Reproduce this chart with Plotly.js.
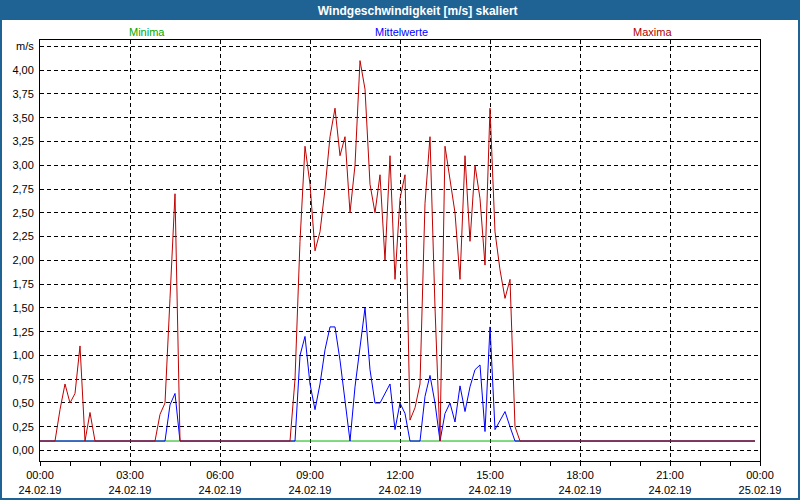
<!DOCTYPE html>
<html>
<head>
<meta charset="utf-8">
<script src="https://cdn.plot.ly/plotly-3.0.1.min.js"></script>
<style>
html,body{margin:0;padding:0;background:#fff;}
#wrap{position:relative;width:800px;height:500px;overflow:hidden;}
#chart{width:800px;height:500px;}
#frame{position:absolute;left:0;top:0;width:800px;height:500px;box-sizing:border-box;border:2px solid #1f6394;pointer-events:none;}
</style>
</head>
<body>
<div id="wrap"><div id="chart"></div><div id="frame"></div></div>
<script>
// ---- data (10-minute values, 24.02.2019 00:00 .. 23:50) ----
const startTime = '2019-02-24T00:00:00';
const stepMinutes = 10;

const minima = [
 0.1,0.1,0.1,0.1,0.1,0.1, 0.1,0.1,0.1,0.1,0.1,0.1, 0.1,0.1,0.1,0.1,0.1,0.1, 0.1,0.1,0.1,0.1,0.1,0.1,
 0.1,0.1,0.1,0.1,0.1,0.1, 0.1,0.1,0.1,0.1,0.1,0.1, 0.1,0.1,0.1,0.1,0.1,0.1, 0.1,0.1,0.1,0.1,0.1,0.1,
 0.1,0.1,0.1,0.1,0.1,0.1, 0.1,0.1,0.1,0.1,0.1,0.1, 0.1,0.1,0.1,0.1,0.1,0.1, 0.1,0.1,0.1,0.1,0.1,0.1,
 0.1,0.1,0.1,0.1,0.1,0.1, 0.1,0.1,0.1,0.1,0.1,0.1, 0.1,0.1,0.1,0.1,0.1,0.1, 0.1,0.1,0.1,0.1,0.1,0.1,
 0.1,0.1,0.1,0.1,0.1,0.1, 0.1,0.1,0.1,0.1,0.1,0.1, 0.1,0.1,0.1,0.1,0.1,0.1, 0.1,0.1,0.1,0.1,0.1,0.1,
 0.1,0.1,0.1,0.1,0.1,0.1, 0.1,0.1,0.1,0.1,0.1,0.1, 0.1,0.1,0.1,0.1,0.1,0.1, 0.1,0.1,0.1,0.1,0.1,0.1
];

const mittelwerte = [
 0.1,0.1,0.1,0.1,0.1,0.1,      // 00
 0.1,0.1,0.1,0.1,0.1,0.1,      // 01
 0.1,0.1,0.1,0.1,0.1,0.1,      // 02
 0.1,0.1,0.1,0.1,0.1,0.1,      // 03
 0.1,0.1,0.48,0.6,0.1,0.1,     // 04
 0.1,0.1,0.1,0.1,0.1,0.1,      // 05
 0.1,0.1,0.1,0.1,0.1,0.1,      // 06
 0.1,0.1,0.1,0.1,0.1,0.1,      // 07
 0.1,0.1,0.1,0.1,1.0,1.2,      // 08
 0.7,0.43,0.7,1.06,1.3,1.3,    // 09
 0.95,0.5,0.1,0.67,1.06,1.5,   // 10
 0.85,0.5,0.5,0.6,0.7,0.22,    // 11
 0.5,0.39,0.1,0.1,0.1,0.57,    // 12
 0.79,0.5,0.1,0.39,0.5,0.3,    // 13
 0.68,0.41,0.67,0.85,0.9,0.2,  // 14
 1.3,0.22,0.32,0.41,0.25,0.1,  // 15
 0.1,0.1,0.1,0.1,0.1,0.1,      // 16
 0.1,0.1,0.1,0.1,0.1,0.1,      // 17
 0.1,0.1,0.1,0.1,0.1,0.1,      // 18
 0.1,0.1,0.1,0.1,0.1,0.1,      // 19
 0.1,0.1,0.1,0.1,0.1,0.1,      // 20
 0.1,0.1,0.1,0.1,0.1,0.1,      // 21
 0.1,0.1,0.1,0.1,0.1,0.1,      // 22
 0.1,0.1,0.1,0.1,0.1,0.1       // 23
];

const maxima = [
 0.1,0.1,0.1,0.1,0.43,0.7,     // 00
 0.5,0.6,1.1,0.1,0.4,0.1,      // 01
 0.1,0.1,0.1,0.1,0.1,0.1,      // 02
 0.1,0.1,0.1,0.1,0.1,0.1,      // 03
 0.38,0.5,1.6,2.7,0.1,0.1,     // 04
 0.1,0.1,0.1,0.1,0.1,0.1,      // 05
 0.1,0.1,0.1,0.1,0.1,0.1,      // 06
 0.1,0.1,0.1,0.1,0.1,0.1,      // 07
 0.1,0.1,0.1,0.75,2.2,3.2,     // 08
 2.8,2.1,2.3,2.75,3.3,3.6,     // 09
 3.1,3.3,2.5,3.0,4.1,3.8,      // 10
 2.8,2.5,2.9,2.0,3.1,1.8,      // 11
 2.65,2.9,0.32,0.45,0.7,2.6,   // 12
 3.3,1.5,0.1,3.2,2.87,2.5,     // 13
 1.8,3.1,2.2,3.0,2.65,1.95,    // 14
 3.6,2.3,1.9,1.6,1.8,0.25,     // 15
 0.1,0.1,0.1,0.1,0.1,0.1,      // 16
 0.1,0.1,0.1,0.1,0.1,0.1,      // 17
 0.1,0.1,0.1,0.1,0.1,0.1,      // 18
 0.1,0.1,0.1,0.1,0.1,0.1,      // 19
 0.1,0.1,0.1,0.1,0.1,0.1,      // 20
 0.1,0.1,0.1,0.1,0.1,0.1,      // 21
 0.1,0.1,0.1,0.1,0.1,0.1,      // 22
 0.1,0.1,0.1,0.1,0.1,0.1       // 23
];

const seriesNames = ['Minima', 'Mittelwerte', 'Maxima'];
const seriesColors = ['#00b400', '#0000ff', '#c00000'];
const labelColors = ['#00a800', '#0000ff', '#b00000'];

const xTickVals = ['2019-02-24 00:00','2019-02-24 03:00','2019-02-24 06:00','2019-02-24 09:00','2019-02-24 12:00',
                   '2019-02-24 15:00','2019-02-24 18:00','2019-02-24 21:00','2019-02-25 00:00'];
const xTickText = ['00:00<br>24.02.19','03:00<br>24.02.19','06:00<br>24.02.19','09:00<br>24.02.19','12:00<br>24.02.19',
                   '15:00<br>24.02.19','18:00<br>24.02.19','21:00<br>24.02.19','00:00<br>25.02.19'];
const yTickVals = [0,0.25,0.5,0.75,1,1.25,1.5,1.75,2,2.25,2.5,2.75,3,3.25,3.5,3.75,4,4.25];
const yTickText = ['0,00','0,25','0,50','0,75','1,00','1,25','1,50','1,75','2,00','2,25','2,50','2,75','3,00','3,25','3,50','3,75','4,00','m/s'];

const chartTitle = 'Windgeschwindigkeit [m/s] skaliert';

// ---- build time axis ----
function pad(n){return (n<10?'0':'')+n;}
const t0 = new Date(startTime);
const times = minima.map((_, i) => {
  const d = new Date(t0.getTime() + i*stepMinutes*60000);
  return d.getFullYear()+'-'+pad(d.getMonth()+1)+'-'+pad(d.getDate())+' '+pad(d.getHours())+':'+pad(d.getMinutes());
});

const seriesData = [minima, mittelwerte, maxima];
const traces = seriesData.map((vals, k) => ({
  type:'scatter', mode:'lines', x:times, y:vals, name:seriesNames[k],
  line:{color:seriesColors[k], width:1}, hoverinfo:'skip'
}));

const FONT = 'Liberation Sans, Arial, sans-serif';
const legendX = [0.1486, 0.5014, 0.8507];

const layout = {
  width:800, height:500,
  margin:{l:40, r:40, t:40, b:39, pad:0},
  paper_bgcolor:'#ffffff', plot_bgcolor:'#ffffff',
  font:{family:FONT, size:11, color:'#000'},
  showlegend:false,
  title:{text:chartTitle, x:0.522, xref:'container', xanchor:'center', y:0.979, yref:'container', yanchor:'middle',
         font:{family:FONT, size:12, color:'#ffffff', weight:'bold'}},
  xaxis:{
    type:'date', range:['2019-02-24 00:00','2019-02-25 00:00'], fixedrange:true,
    tickmode:'array', tickvals:xTickVals, ticktext:xTickText,
    ticks:'outside', ticklen:4, tickcolor:'#000', tickwidth:1,
    showline:true, linecolor:'#000', linewidth:1, mirror:true,
    showgrid:true, gridcolor:'#000', gridwidth:1, griddash:'4px,3px',
    zeroline:false, tickfont:{family:FONT, size:11, color:'#000'},
    minor:{dtick:3600000, tick0:'2019-02-24 00:00', ticks:'outside', ticklen:4, tickcolor:'#000', showgrid:false}
  },
  yaxis:{
    range:[-0.110, 4.317], fixedrange:true,
    tickmode:'array', tickvals:yTickVals, ticktext:yTickText,
    ticks:'', showline:true, linecolor:'#000', linewidth:1, mirror:true,
    showgrid:true, gridcolor:'#000', gridwidth:1, griddash:'4px,3px',
    zeroline:false, ticklabelstandoff:3, tickfont:{family:FONT, size:11, color:'#000'}
  },
  shapes:[
    {type:'rect', xref:'paper', yref:'paper', x0:-0.06, x1:1.06, y0:1.0475, y1:1.1, layer:'below',
     fillcolor:'#1f6394', line:{width:0}}
  ],
  annotations: seriesNames.map((n, k) => ({
    text:n, xref:'paper', yref:'paper', x:legendX[k], y:1.019, xanchor:'center', yanchor:'middle',
    showarrow:false, font:{family:FONT, size:11, color:labelColors[k]}
  }))
};

Plotly.newPlot('chart', traces, layout, {staticPlot:true, displayModeBar:false});
</script>
</body>
</html>
